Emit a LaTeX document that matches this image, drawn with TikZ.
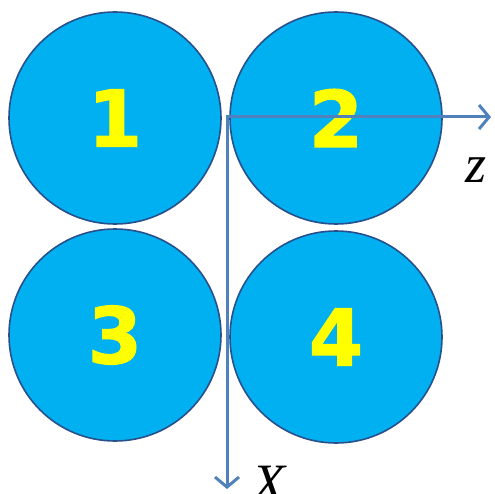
\documentclass[tikz,border=0pt]{standalone}
\usepackage{fontspec}
\setmainfont{Liberation Serif}
\newfontfamily\digitfont{DejaVu Sans}[BoldFeatures={FakeBold=1.5}]
\usetikzlibrary{arrows.meta}
\usetikzlibrary{positioning}

\definecolor{ballfill}{RGB}{0,176,240}
\definecolor{balledge}{RGB}{40,80,140}
\definecolor{axisblue}{RGB}{79,129,189}
\definecolor{digityellow}{RGB}{255,255,0}

\begin{document}
\begin{tikzpicture}[x=1pt, y=-1pt,
    ball/.style={circle, draw=balledge, line width=1.6pt, fill=ballfill, minimum size=212pt,
      inner sep=0pt, text=digityellow, font=\digitfont\bfseries\fontsize{78}{78}\selectfont},
    axis/.style={draw=axisblue, line width=3pt, -{Straight Barb[length=10pt, width=24pt]}},
    axis label/.style={inner sep=0pt, font=\itshape\fontsize{54}{54}\selectfont},
  ]
  \useasboundingbox (0,0) rectangle (494,494);

  \node[ball] (ball1) at (115,118) {1};
  \node[ball] (ball2) at (336,118) {2};
  \node[ball] (ball3) at (115,335) {3};
  \node[ball] (ball4) at (336,337) {4};

  \coordinate (origin) at (227,117);
  \coordinate (zend) at (491,117);
  \coordinate (xend) at (227,489);

  \draw[axis] ([xshift=-1.5pt]origin) -- (zend);
  \draw[axis] (origin) -- (xend);

  \node[axis label] (zlabel) at (476,170) {z};
  \node[axis label] (xlabel) at (269,484) {X};
\end{tikzpicture}
\end{document}
